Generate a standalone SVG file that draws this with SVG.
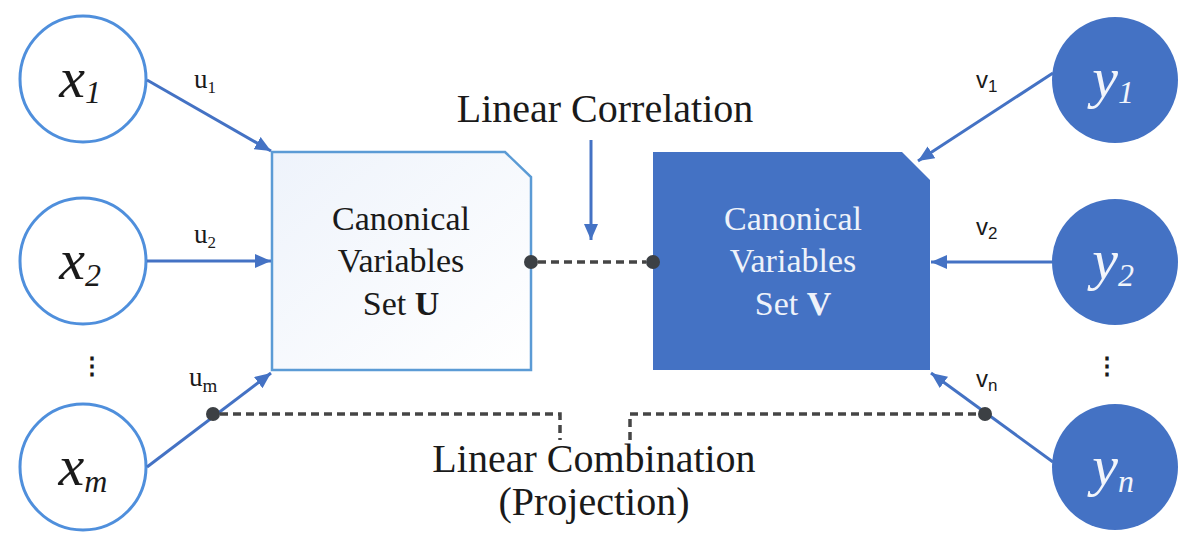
<svg xmlns="http://www.w3.org/2000/svg" width="1198" height="544" viewBox="0 0 1198 544">
<style>
.xc{fill:#ffffff;stroke:#4f8fdc;stroke-width:3}
.yc{fill:#4472c4;stroke:none}
.lbl{font-family:"Liberation Serif",serif;font-style:italic;font-size:58px;text-anchor:middle}
.sub{font-size:32px}
.conn{stroke:#4472c4;stroke-width:3;fill:none}
.dash{stroke:#454545;stroke-width:3.5;fill:none;stroke-dasharray:8 5}
.dot{fill:#3c4044}
.box{font-family:"Liberation Serif",serif;font-size:34px;text-anchor:middle}
.big{font-family:"Liberation Serif",serif;font-size:40px;text-anchor:middle;fill:#1a1a1a}
.ul{font-family:"Liberation Serif",serif;font-size:27px;fill:#1a1a1a}
.vl{font-family:"Liberation Sans",sans-serif;font-size:24px;fill:#1a1a1a}
</style>
<defs>
<marker id="ah" markerUnits="userSpaceOnUse" markerWidth="16" markerHeight="14" refX="16" refY="7" orient="auto">
<path d="M0,0 L16,7 L0,14 z" fill="#4472c4"/>
</marker>
<linearGradient id="ug" x1="0" y1="0" x2="1" y2="1">
<stop offset="0" stop-color="#eef3fb"/>
<stop offset="1" stop-color="#ffffff"/>
</linearGradient>
</defs>
<rect width="1198" height="544" fill="#ffffff"/>

<g id="node-x1">
<circle class="xc" cx="83" cy="79" r="63"/>
<text class="lbl" x="80" y="97" fill="#1a1a1a">x<tspan class="sub" dy="6">1</tspan></text>
</g>
<g id="node-x2">
<circle class="xc" cx="83" cy="261" r="63"/>
<text class="lbl" x="80" y="279" fill="#1a1a1a">x<tspan class="sub" dy="7">2</tspan></text>
</g>
<g id="node-xdots">
<text x="92" y="374" font-family="Liberation Sans,sans-serif" font-size="24" font-weight="bold" text-anchor="middle" fill="#1a1a1a">⋮</text>
</g>
<g id="node-xm">
<circle class="xc" cx="83" cy="467" r="63"/>
<text class="lbl" x="83" y="485" fill="#1a1a1a">x<tspan class="sub" dy="7">m</tspan></text>
</g>

<g id="node-y1">
<circle class="yc" cx="1115" cy="80" r="63"/>
<text class="lbl" x="1113" y="97" fill="#f2f5fb">y<tspan class="sub" dy="6">1</tspan></text>
</g>
<g id="node-y2">
<circle class="yc" cx="1115" cy="262" r="63"/>
<text class="lbl" x="1113" y="279" fill="#f2f5fb">y<tspan class="sub" dy="7">2</tspan></text>
</g>
<g id="node-ydots">
<text x="1107" y="374" font-family="Liberation Sans,sans-serif" font-size="24" font-weight="bold" text-anchor="middle" fill="#1a1a1a">⋮</text>
</g>
<g id="node-yn">
<circle class="yc" cx="1115" cy="467" r="63"/>
<text class="lbl" x="1113" y="485" fill="#f2f5fb">y<tspan class="sub" dy="7">n</tspan></text>
</g>

<g id="node-U">
<path d="M272,152 L505,152 L531,177 L531,370 L272,370 Z" fill="url(#ug)" stroke="#5b9bd5" stroke-width="2.5"/>
<text class="box" x="401" y="230" fill="#1a1a1a">Canonical</text>
<text class="box" x="401" y="272" fill="#1a1a1a">Variables</text>
<text class="box" x="401" y="315" fill="#1a1a1a">Set <tspan font-weight="bold">U</tspan></text>
</g>

<g id="node-V">
<path d="M653,152 L902,152 L930,180 L930,370 L653,370 Z" fill="#4472c4"/>
<text class="box" x="793" y="230" fill="#eef2fa">Canonical</text>
<text class="box" x="793" y="272" fill="#eef2fa">Variables</text>
<text class="box" x="793" y="315" fill="#eef2fa">Set <tspan font-weight="bold">V</tspan></text>
</g>

<g id="connectors">
<line class="conn" x1="147" y1="80" x2="271" y2="151" marker-end="url(#ah)"/>
<line class="conn" x1="147" y1="261" x2="271" y2="261" marker-end="url(#ah)"/>
<line class="conn" x1="147" y1="467" x2="271" y2="373" marker-end="url(#ah)"/>
<line class="conn" x1="1053" y1="73" x2="918" y2="161" marker-end="url(#ah)"/>
<line class="conn" x1="1053" y1="262" x2="931" y2="262" marker-end="url(#ah)"/>
<line class="conn" x1="1053" y1="462" x2="931" y2="373" marker-end="url(#ah)"/>
<line class="conn" x1="591" y1="140" x2="591" y2="240" marker-end="url(#ah)"/>
<line class="dash" x1="538" y1="262" x2="646" y2="262"/>
<polyline class="dash" points="220,414 560,414 560,440"/>
<polyline class="dash" points="630,440 630,414 978,414"/>
<circle class="dot" cx="531" cy="262" r="7"/>
<circle class="dot" cx="653" cy="262" r="7"/>
<circle class="dot" cx="213" cy="414" r="7"/>
<circle class="dot" cx="985" cy="414" r="7"/>
<text class="ul" x="194" y="88">u<tspan font-size="17" dy="5">1</tspan></text>
<text class="ul" x="194" y="243">u<tspan font-size="17" dy="5">2</tspan></text>
<text class="ul" x="189" y="386">u<tspan font-size="19" dy="6">m</tspan></text>
<text class="vl" x="976" y="88">v<tspan font-size="17" dy="4">1</tspan></text>
<text class="vl" x="976" y="235">v<tspan font-size="17" dy="4">2</tspan></text>
<text class="vl" x="976" y="387">v<tspan font-size="17" dy="4">n</tspan></text>
<text class="big" x="605" y="122">Linear Correlation</text>
<text class="big" x="594" y="472">Linear Combination</text>
<text class="big" x="594" y="515">(Projection)</text>
</g>
</svg>
